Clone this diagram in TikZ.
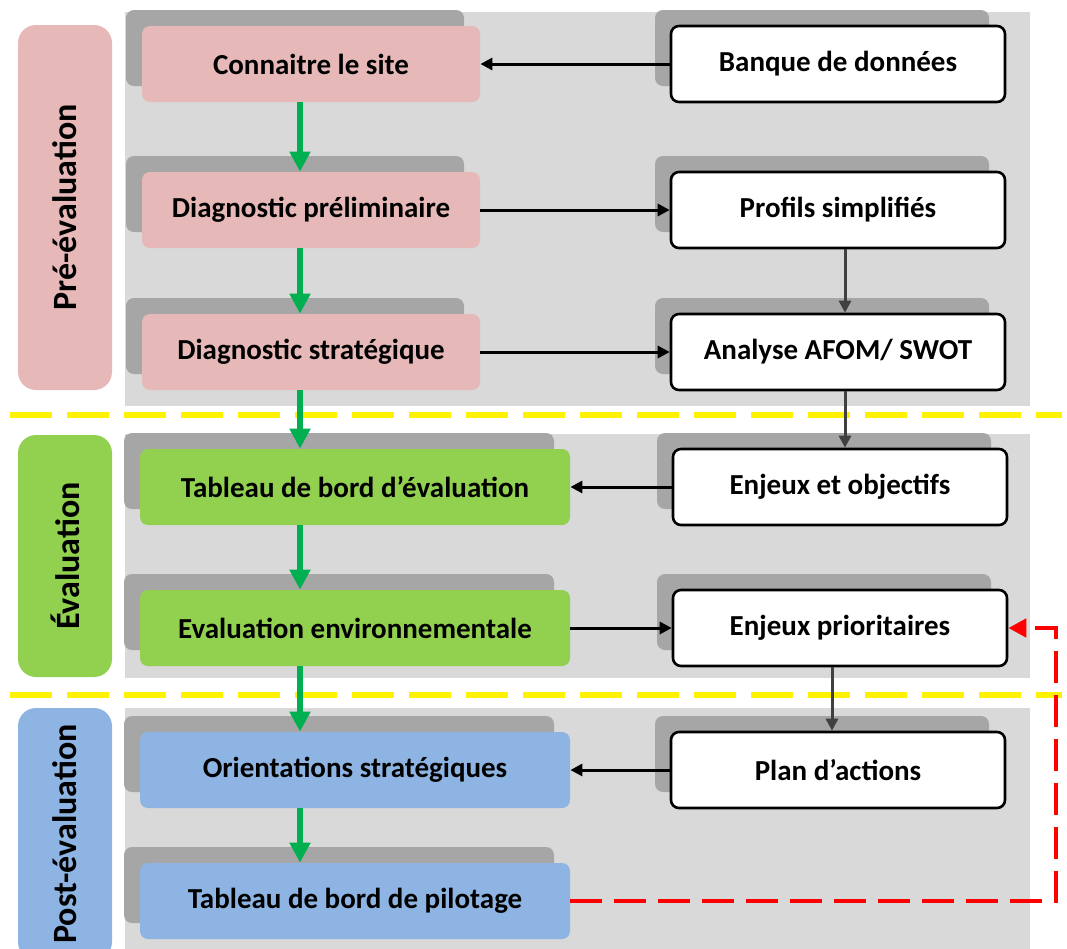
\documentclass[tikz,border=0pt]{standalone}
\usepackage{fontspec}
\setmainfont{Carlito}
\usetikzlibrary{arrows.meta, shadows}

\definecolor{pinkfill}{HTML}{E6B9B8}
\definecolor{greenfill}{HTML}{92D050}
\definecolor{bluefill}{HTML}{8DB4E2}
\definecolor{panelgray}{HTML}{D9D9D9}
\definecolor{shadowgray}{HTML}{A6A6A6}
\definecolor{arrowgreen}{HTML}{00B050}

\begin{document}
\begin{tikzpicture}[x=0.5pt, y=-0.5pt,
  box_node/.style={rounded corners=4pt, minimum height=38pt, inner sep=2pt,
    font=\bfseries\fontsize{14.5}{17}\selectfont,
    copy shadow={shadow xshift=-8pt, shadow yshift=8pt, fill=shadowgray, draw=none}},
  pink_node/.style={box_node, fill=pinkfill, minimum width=169pt},
  green_node/.style={box_node, fill=greenfill, minimum width=215pt},
  blue_node/.style={box_node, fill=bluefill, minimum width=215pt},
  data_node/.style={box_node, fill=white, draw=black, line width=1.3pt, minimum width=167pt},
  phase_node/.style={rounded corners=9pt, rotate=90, minimum height=47pt,
    font=\bfseries\fontsize{17}{20}\selectfont},
  flow/.style={draw=arrowgreen, line width=2.6pt, -{Triangle[length=10pt,width=10pt]}},
  link/.style={draw=black, line width=1.5pt, -{Triangle[length=6pt,width=6pt]}},
  down_link/.style={link, draw=black!75},
  sep_line/.style={draw=yellow, line width=2.6pt, dash pattern=on 21pt off 7.5pt},
  loop_line/.style={draw=red, line width=2.4pt, dash pattern=on 16pt off 6pt,
    -{Triangle[length=9pt,width=9pt]}}
]

\useasboundingbox (0,0) rectangle (1067,949);

% panels
\fill[panelgray] (125,12) rectangle (1030,406);
\fill[panelgray] (125,434) rectangle (1030,678);
\fill[panelgray] (125,708) rectangle (1030,960);

\draw[sep_line] (10,415) -- (1062,415);
\draw[sep_line] (10,695) -- (1062,695);

% phases
\node[phase_node, fill=pinkfill, minimum width=182.5pt] (pre) at (65,207.5) {Pré-évaluation};
\node[phase_node, fill=greenfill, minimum width=121pt] (eva) at (65,556) {Évaluation};
\node[phase_node, fill=bluefill, minimum width=126pt] (post) at (65,834) {Post-évaluation};

% left column
\node[pink_node] (cs) at (311,64) {Connaitre le site};
\node[pink_node] (dp) at (311,210) {Diagnostic préliminaire};
\node[pink_node] (ds) at (311,352) {Diagnostic stratégique};
\node[green_node] (tbe) at (355,487) {Tableau de bord d’évaluation};
\node[green_node] (ee) at (355,628) {Evaluation environnementale};
\node[blue_node] (os) at (355,770) {Orientations stratégiques};
\node[blue_node] (tbp) at (355,901) {Tableau de bord de pilotage};

% right column
\node[data_node] (bd) at (838,64) {Banque de données};
\node[data_node] (ps) at (838,210) {Profils simplifiés};
\node[data_node] (an) at (838,352) {Analyse AFOM/ SWOT};
\node[data_node] (eo) at (840,487) {Enjeux et objectifs};
\node[data_node] (ep) at (840,628) {Enjeux prioritaires};
\node[data_node] (pa) at (838,770) {Plan d’actions};

\coordinate (spine) at (300,0);
\coordinate (rspine) at (845,0);
\coordinate (qspine) at (832,0);
\coordinate (back) at (1056,628);

\foreach \i/\j in {cs/dp,dp/ds,ds/tbe,tbe/ee,ee/os,os/tbp}
  \draw[flow] (\i.south -| spine) -- (\j.north -| spine);

\foreach \i/\j in {bd/cs,dp/ps,ds/an,eo/tbe,ee/ep,pa/os}
  \draw[link] (\i) -- (\j);

\foreach \i/\j in {ps/an,an/eo}
  \draw[down_link] (\i.south -| rspine) -- (\j.north -| rspine);
\draw[down_link] (ep.south -| qspine) -- (pa.north -| qspine);

\draw[loop_line] (tbp.east) -| (back) -- (ep.east);

\end{tikzpicture}
\end{document}
